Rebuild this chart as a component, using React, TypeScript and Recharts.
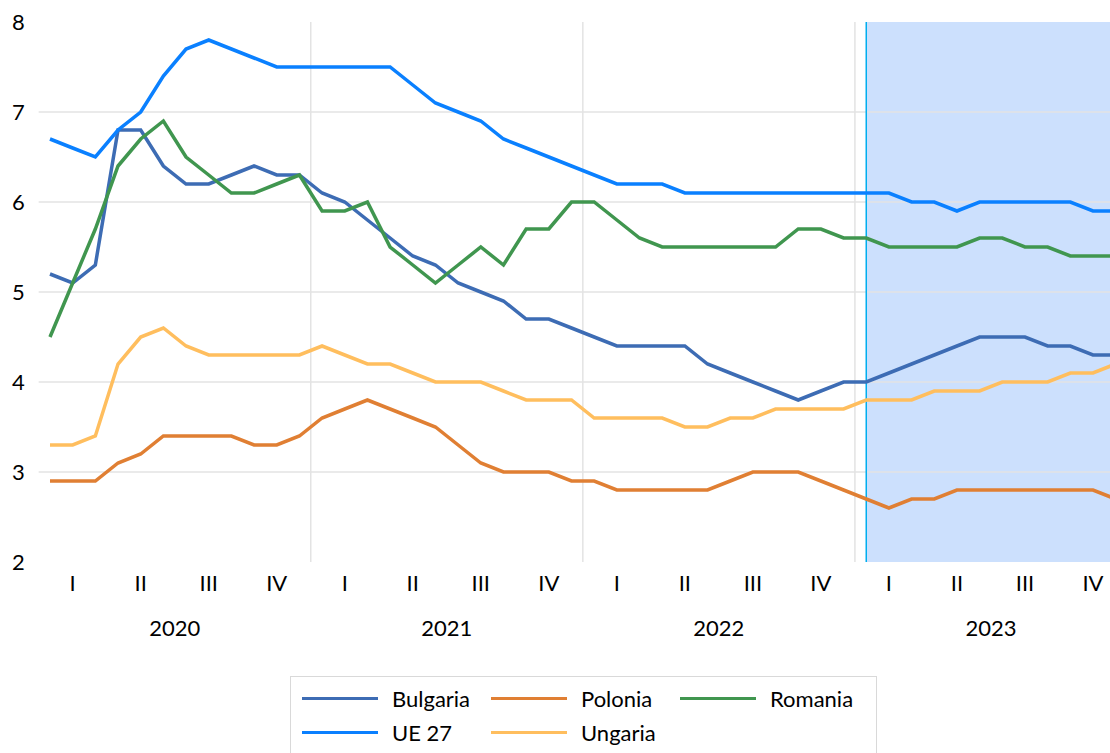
import React from 'react'
import {
  LineChart,
  Line,
  XAxis,
  YAxis,
  CartesianGrid,
  ReferenceArea,
  ReferenceLine,
} from 'recharts'

const years = ['2020', '2021', '2022', '2023']
const quarters = ['I', 'II', 'III', 'IV']

// monthly values, Jan 2020 .. Dec 2023
const bulgaria = [
  5.2, 5.1, 5.3, 6.8, 6.8, 6.4, 6.2, 6.2, 6.3, 6.4, 6.3, 6.3,
  6.1, 6.0, 5.8, 5.6, 5.4, 5.3, 5.1, 5.0, 4.9, 4.7, 4.7, 4.6,
  4.5, 4.4, 4.4, 4.4, 4.4, 4.2, 4.1, 4.0, 3.9, 3.8, 3.9, 4.0,
  4.0, 4.1, 4.2, 4.3, 4.4, 4.5, 4.5, 4.5, 4.4, 4.4, 4.3, 4.3,
]
const polonia = [
  2.9, 2.9, 2.9, 3.1, 3.2, 3.4, 3.4, 3.4, 3.4, 3.3, 3.3, 3.4,
  3.6, 3.7, 3.8, 3.7, 3.6, 3.5, 3.3, 3.1, 3.0, 3.0, 3.0, 2.9,
  2.9, 2.8, 2.8, 2.8, 2.8, 2.8, 2.9, 3.0, 3.0, 3.0, 2.9, 2.8,
  2.7, 2.6, 2.7, 2.7, 2.8, 2.8, 2.8, 2.8, 2.8, 2.8, 2.8, 2.7,
]
const romania = [
  4.5, 5.1, 5.7, 6.4, 6.7, 6.9, 6.5, 6.3, 6.1, 6.1, 6.2, 6.3,
  5.9, 5.9, 6.0, 5.5, 5.3, 5.1, 5.3, 5.5, 5.3, 5.7, 5.7, 6.0,
  6.0, 5.8, 5.6, 5.5, 5.5, 5.5, 5.5, 5.5, 5.5, 5.7, 5.7, 5.6,
  5.6, 5.5, 5.5, 5.5, 5.5, 5.6, 5.6, 5.5, 5.5, 5.4, 5.4, 5.4,
]
const ue27 = [
  6.7, 6.6, 6.5, 6.8, 7.0, 7.4, 7.7, 7.8, 7.7, 7.6, 7.5, 7.5,
  7.5, 7.5, 7.5, 7.5, 7.3, 7.1, 7.0, 6.9, 6.7, 6.6, 6.5, 6.4,
  6.3, 6.2, 6.2, 6.2, 6.1, 6.1, 6.1, 6.1, 6.1, 6.1, 6.1, 6.1,
  6.1, 6.1, 6.0, 6.0, 5.9, 6.0, 6.0, 6.0, 6.0, 6.0, 5.9, 5.9,
]
const ungaria = [
  3.3, 3.3, 3.4, 4.2, 4.5, 4.6, 4.4, 4.3, 4.3, 4.3, 4.3, 4.3,
  4.4, 4.3, 4.2, 4.2, 4.1, 4.0, 4.0, 4.0, 3.9, 3.8, 3.8, 3.8,
  3.6, 3.6, 3.6, 3.6, 3.5, 3.5, 3.6, 3.6, 3.7, 3.7, 3.7, 3.7,
  3.8, 3.8, 3.8, 3.9, 3.9, 3.9, 4.0, 4.0, 4.0, 4.1, 4.1, 4.2,
]

const yTicks = [2, 3, 4, 5, 6, 7, 8]
const gridValues = [3, 4, 5, 6, 7]
const forecastStart = 36 // Jan 2023

const series = [
  { key: 'bulgaria', name: 'Bulgaria', color: '#3D6CB4', values: bulgaria },
  { key: 'polonia', name: 'Polonia', color: '#E07F33', values: polonia },
  { key: 'romania', name: 'Romania', color: '#40964F', values: romania },
  { key: 'ue27', name: 'UE 27', color: '#0A80FF', values: ue27 },
  { key: 'ungaria', name: 'Ungaria', color: '#FFBE5E', values: ungaria },
]

const data = bulgaria.map((_, i) => {
  const row: Record<string, number> = { i }
  series.forEach((s) => {
    row[s.key] = s.values[i]
  })
  return row
})

const lastIndex = data.length - 1

// middle month of each quarter, plus the middle of each year
const quarterTicks = years.flatMap((_, y) => quarters.map((_, q) => y * 12 + q * 3 + 1))
const yearTicks = years.map((_, y) => y * 12 + 5.5)
const yearBounds = years.slice(1).map((_, y) => (y + 1) * 12 - 0.5)

const font = 'Lato, "Open Sans", sans-serif'

const scaleOf = (axis: any, v: number) => {
  const s = axis?.scale
  if (!s) return 0
  if (typeof s === 'function') return s(v)
  if (typeof s.map === 'function') return s.map(v)
  return 0
}

const AxisTick = (props: any) => {
  const { x, y, payload } = props
  const v = payload.value as number
  const isQuarter = Number.isInteger(v)
  return (
    <text
      x={x}
      y={y + (isQuarter ? 20 : 65)}
      textAnchor="middle"
      dominantBaseline="central"
      fontFamily={font}
      fontSize={22}
      fill="#000"
    >
      {isQuarter ? quarters[Math.floor((v % 12) / 3)] : years[Math.floor(v / 12)]}
    </text>
  )
}

function LegendBox() {
  const rows = [series.slice(0, 3), series.slice(3)]
  return (
    <div
      style={{
        position: 'absolute',
        left: 290,
        top: 676,
        width: 585,
        height: 100,
        border: '1px solid #d9d9d9',
        background: '#fff',
        fontFamily: font,
        fontSize: 22,
        color: '#000',
      }}
    >
      {rows.map((row, r) =>
        row.map((s, c) => (
          <div
            key={s.key}
            style={{
              position: 'absolute',
              left: 11 + c * 189,
              top: r === 0 ? 6 : 40,
              height: 30,
              display: 'flex',
              alignItems: 'center',
              whiteSpace: 'nowrap',
            }}
          >
            <span
              style={{
                display: 'inline-block',
                width: 76,
                height: 3,
                background: s.color,
                marginRight: 14,
              }}
            />
            <span>{s.name}</span>
          </div>
        ))
      )}
    </div>
  )
}

export default function App() {
  return (
    <div
      style={{
        position: 'fixed',
        left: 0,
        top: 0,
        width: 1110,
        height: 753,
        overflow: 'hidden',
        background: '#fff',
      }}
    >
      <LineChart
        width={1128}
        height={753}
        data={data}
        margin={{ top: 22, right: 1, bottom: 111, left: 0 }}
      >
        <ReferenceArea
          x1={forecastStart}
          x2={lastIndex + 0.5}
          y1={2}
          y2={8}
          fill="#CCE0FD"
          fillOpacity={1}
          stroke="none"
          ifOverflow="hidden"
          zIndex={-150}
        />
        <CartesianGrid
          stroke="#e3e3e3"
          strokeWidth={1.5}
          horizontalCoordinatesGenerator={({ yAxis }: any) =>
            gridValues.map((v) => scaleOf(yAxis, v))
          }
          verticalCoordinatesGenerator={({ xAxis }: any) =>
            yearBounds.map((v) => scaleOf(xAxis, v))
          }
        />
        <XAxis
          type="number"
          dataKey="i"
          domain={[-0.5, lastIndex + 0.5]}
          ticks={[...quarterTicks, ...yearTicks]}
          interval={0}
          axisLine={false}
          tickLine={false}
          tickSize={0}
          tickMargin={0}
          height={80}
          tick={<AxisTick />}
        />
        <YAxis
          type="number"
          domain={[2, 8]}
          ticks={yTicks}
          interval={0}
          width={38.66}
          axisLine={false}
          tickLine={false}
          tickSize={0}
          tickMargin={14}
          tick={{ fontFamily: font, fontSize: 22, fill: '#000' }}
        />
        <ReferenceLine x={forecastStart} stroke="#00AEEF" strokeWidth={1.5} />
        {series.map((s) => (
          <Line
            key={s.key}
            type="linear"
            dataKey={s.key}
            name={s.name}
            stroke={s.color}
            strokeWidth={3.5}
            dot={false}
            activeDot={false}
            isAnimationActive={false}
          />
        ))}
      </LineChart>
      <LegendBox />
    </div>
  )
}
